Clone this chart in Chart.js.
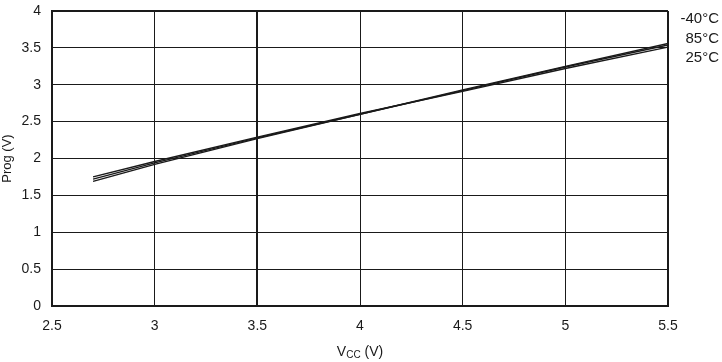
<!DOCTYPE html>
<html>
<head>
<meta charset="utf-8">
<script src="https://cdn.jsdelivr.net/npm/chart.js@4/dist/chart.umd.min.js"></script>
<style>
  html, body { margin: 0; padding: 0; background: #fff; }
  #wrap { width: 722px; height: 362px; }
</style>
</head>
<body>
<div id="wrap"><canvas id="progChart"></canvas></div>
<script>
const vcc = [2.7, 3, 3.5, 4, 4.5, 5, 5.5];
const progM40 = [1.69, 1.92, 2.27, 2.60, 2.93, 3.25, 3.56];
const prog85 = [1.72, 1.94, 2.28, 2.60, 2.92, 3.24, 3.54];
const prog25 = [1.75, 1.96, 2.29, 2.61, 2.91, 3.22, 3.51];
const seriesLabels = ["-40°C", "85°C", "25°C"];

const font = "Liberation Sans, Arial, sans-serif";
const pts = (ys) => vcc.map((x, i) => ({ x, y: ys[i] }));

// temperature labels to the right of the plot, plus the V_CC title with subscript
const annotate = {
  id: "annotate",
  afterDraw(chart) {
    const { ctx, chartArea } = chart;
    ctx.save();
    ctx.fillStyle = "#1a1a1a";
    ctx.font = "15px " + font;
    ctx.textAlign = "right";
    ctx.textBaseline = "middle";
    seriesLabels.forEach((t, i) => ctx.fillText(t, 719, 19 + i * 19.5));

    const cx = (chartArea.left + chartArea.right) / 2;
    const y = 352;
    ctx.textAlign = "left";
    ctx.font = "14px " + font;
    const w1 = ctx.measureText("V").width;
    ctx.font = "10px " + font;
    const w2 = ctx.measureText("CC").width;
    ctx.font = "14px " + font;
    const w3 = ctx.measureText(" (V)").width;
    let x = cx - (w1 + w2 + w3) / 2;
    ctx.fillText("V", x, y);
    x += w1;
    ctx.font = "10px " + font;
    ctx.fillText("CC", x, y + 3);
    x += w2;
    ctx.font = "14px " + font;
    ctx.fillText(" (V)", x, y);
    ctx.restore();
  }
};

const thick = (edges) => (c) => (edges.includes(c.tick.value) ? 2 : 1);
const tickText = (v) => String(v);

new Chart(document.getElementById("progChart"), {
  type: "line",
  data: {
    datasets: [
      { label: seriesLabels[0], data: pts(progM40) },
      { label: seriesLabels[1], data: pts(prog85) },
      { label: seriesLabels[2], data: pts(prog25) }
    ].map((d) => ({ ...d, borderColor: "#1a1a1a", borderWidth: 1.4, pointRadius: 0, tension: 0, fill: false }))
  },
  options: {
    responsive: true,
    maintainAspectRatio: false,
    animation: false,
    layout: { padding: { left: 0, top: 11, right: 54, bottom: 0 } },
    plugins: { legend: { display: false }, tooltip: { enabled: false } },
    scales: {
      x: {
        type: "linear",
        min: 2.5,
        max: 5.5,
        ticks: { stepSize: 0.5, callback: tickText, color: "#1a1a1a", font: { family: font, size: 14 }, padding: 12 },
        grid: { color: "#1a1a1a", lineWidth: thick([3.5, 5.5]), drawTicks: false },
        border: { color: "#1a1a1a", width: 2 },
        afterFit: (s) => { s.height = 56; s.paddingLeft = 0; s.paddingRight = 0; }
      },
      y: {
        min: 0,
        max: 4,
        ticks: { stepSize: 0.5, callback: tickText, color: "#1a1a1a", font: { family: font, size: 14 }, padding: 11 },
        grid: { color: "#1a1a1a", lineWidth: thick([4]), drawTicks: false },
        border: { color: "#1a1a1a", width: 2 },
        title: { display: true, text: "Prog (V)", color: "#1a1a1a", font: { family: font, size: 13 }, padding: 0 },
        afterFit: (s) => { s.width = 52; s.paddingTop = 0; s.paddingBottom = 0; }
      }
    }
  },
  plugins: [annotate]
});
</script>
</body>
</html>
